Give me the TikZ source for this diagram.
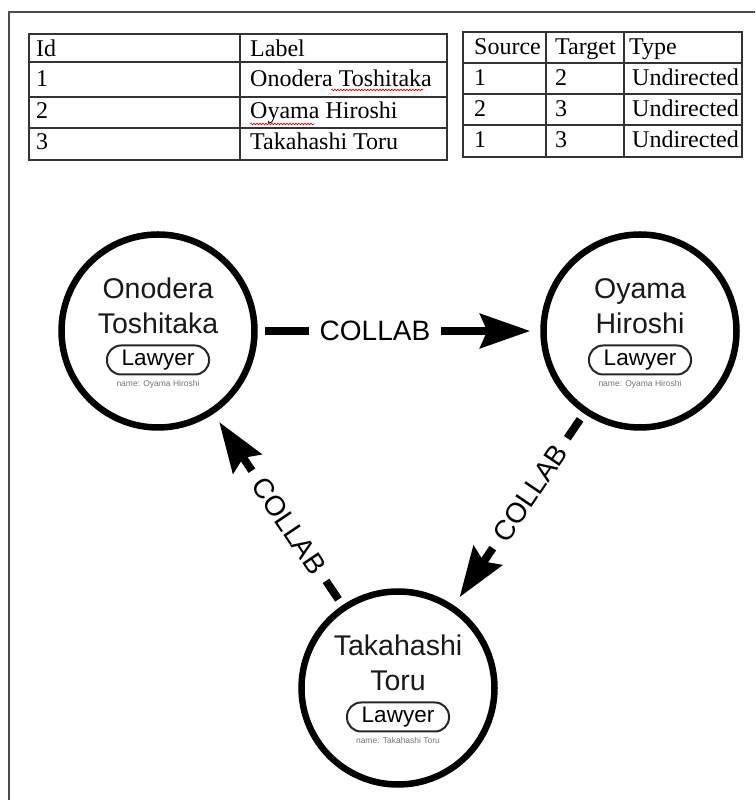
\documentclass[tikz,border=0pt]{standalone}
\usepackage{fontspec}
\setmainfont{Liberation Serif}
\setsansfont{Liberation Sans}
\usetikzlibrary{arrows.meta,decorations.pathmorphing}
\tikzset{
    frame/.style={draw=black!70, line width=1.5pt},
    grid line/.style={draw=black!80, line width=1.3pt},
    cell/.style={anchor=base west, inner sep=0pt, font=\fontsize{24}{24}\selectfont},
    spell/.style={draw=red!85!black, line width=0.6pt, decorate,
        decoration={snake, amplitude=0.9pt, segment length=3pt}},
    person/.style={circle, draw=black, line width=6.5pt, minimum size=193pt, inner sep=0pt},
    personname/.style={anchor=base, inner sep=0pt, text=black!90,
        font=\sffamily\fontsize{28.5}{28.5}\selectfont},
    role/.style={draw=black!85, line width=2pt, rounded corners=14pt, minimum width=102pt,
        minimum height=29pt, inner sep=0pt, font=\sffamily\fontsize{22.5}{22.5}\selectfont},
    prop/.style={anchor=base, inner sep=0pt, text=black!55, font=\sffamily\fontsize{8.5}{8.5}\selectfont},
    rel/.style={line width=8pt, -{Stealth[length=50pt,width=34pt,inset=7pt]},
        shorten <=7pt, shorten >=10pt},
    rellabel/.style={sloped, pos=0.415, fill=white, inner xsep=11pt, inner ysep=2pt,
        font=\sffamily\fontsize{28}{28}\selectfont}
}
\newcommand\PersonNode[5]{%
    \node[person] (#1) at (#2) {};
    \node[personname] (#1-first) at ([yshift=32pt]#1.center) {#3};
    \node[personname] (#1-second) at ([yshift=-3pt]#1.center) {#4};
    \node[role] (#1-role) at ([yshift=-29pt]#1.center) {Lawyer};
    \node[prop] (#1-prop) at ([yshift=-56pt]#1.center) {#5};
}
\begin{document}
\begin{tikzpicture}[x=1pt,y=1pt]
    \useasboundingbox (0,0) rectangle (755,800);
    \draw[frame] (9,0) -- (9,788) -- (755,788);
    % node table
    \draw[grid line] (29,640) rectangle (447,766);
    \draw[grid line] (29,738) -- (447,738);
    \draw[grid line] (29,703) -- (447,703);
    \draw[grid line] (29,672) -- (447,672);
    \draw[grid line] (240,640) -- (240,766);
    \node[cell] (id-head) at (36,743) {Id};
    \node[cell] (label-head) at (250,743) {Label};
    \node[cell] (id-1) at (36,713) {1};
    \node[cell] (label-1) at (250,713) {Onodera Toshitaka};
    \node[cell] (id-2) at (36,681) {2};
    \node[cell] (label-2) at (250,681) {Oyama Hiroshi};
    \node[cell] (id-3) at (36,650) {3};
    \node[cell] (label-3) at (250,650) {Takahashi Toru};
    \draw[spell] (331,710) -- (423,710);
    \draw[spell] (250,676) -- (314,676);
    % edge table
    \draw[grid line] (463,643) rectangle (742,768);
    \draw[grid line] (463,737) -- (742,737);
    \draw[grid line] (463,706) -- (742,706);
    \draw[grid line] (463,675) -- (742,675);
    \draw[grid line] (546,643) -- (546,768);
    \draw[grid line] (624,643) -- (624,768);
    \node[cell] (source-head) at (474,745) {Source};
    \node[cell] (target-head) at (555,745) {Target};
    \node[cell] (type-head) at (629,745) {Type};
    \node[cell] (source-1) at (474,714) {1};
    \node[cell] (target-1) at (555,714) {2};
    \node[cell] (type-1) at (632,714) {Undirected};
    \node[cell] (source-2) at (474,683) {2};
    \node[cell] (target-2) at (555,683) {3};
    \node[cell] (type-2) at (632,683) {Undirected};
    \node[cell] (source-3) at (474,652) {1};
    \node[cell] (target-3) at (555,652) {3};
    \node[cell] (type-3) at (632,652) {Undirected};
    % graph
    \PersonNode{onodera}{158,469}{Onodera}{Toshitaka}{name: Oyama Hiroshi}
    \PersonNode{oyama}{640,469}{Oyama}{Hiroshi}{name: Oyama Hiroshi}
    \PersonNode{takahashi}{398,112}{Takahashi}{Toru}{name: Takahashi Toru}
    \draw[rel] (onodera) -- (oyama) node[rellabel] (collab-a) {COLLAB};
    \draw[rel] (oyama) -- (takahashi) node[rellabel] (collab-b) {COLLAB};
    \draw[rel] (takahashi) -- (onodera) node[rellabel] (collab-c) {COLLAB};
\end{tikzpicture}
\end{document}
